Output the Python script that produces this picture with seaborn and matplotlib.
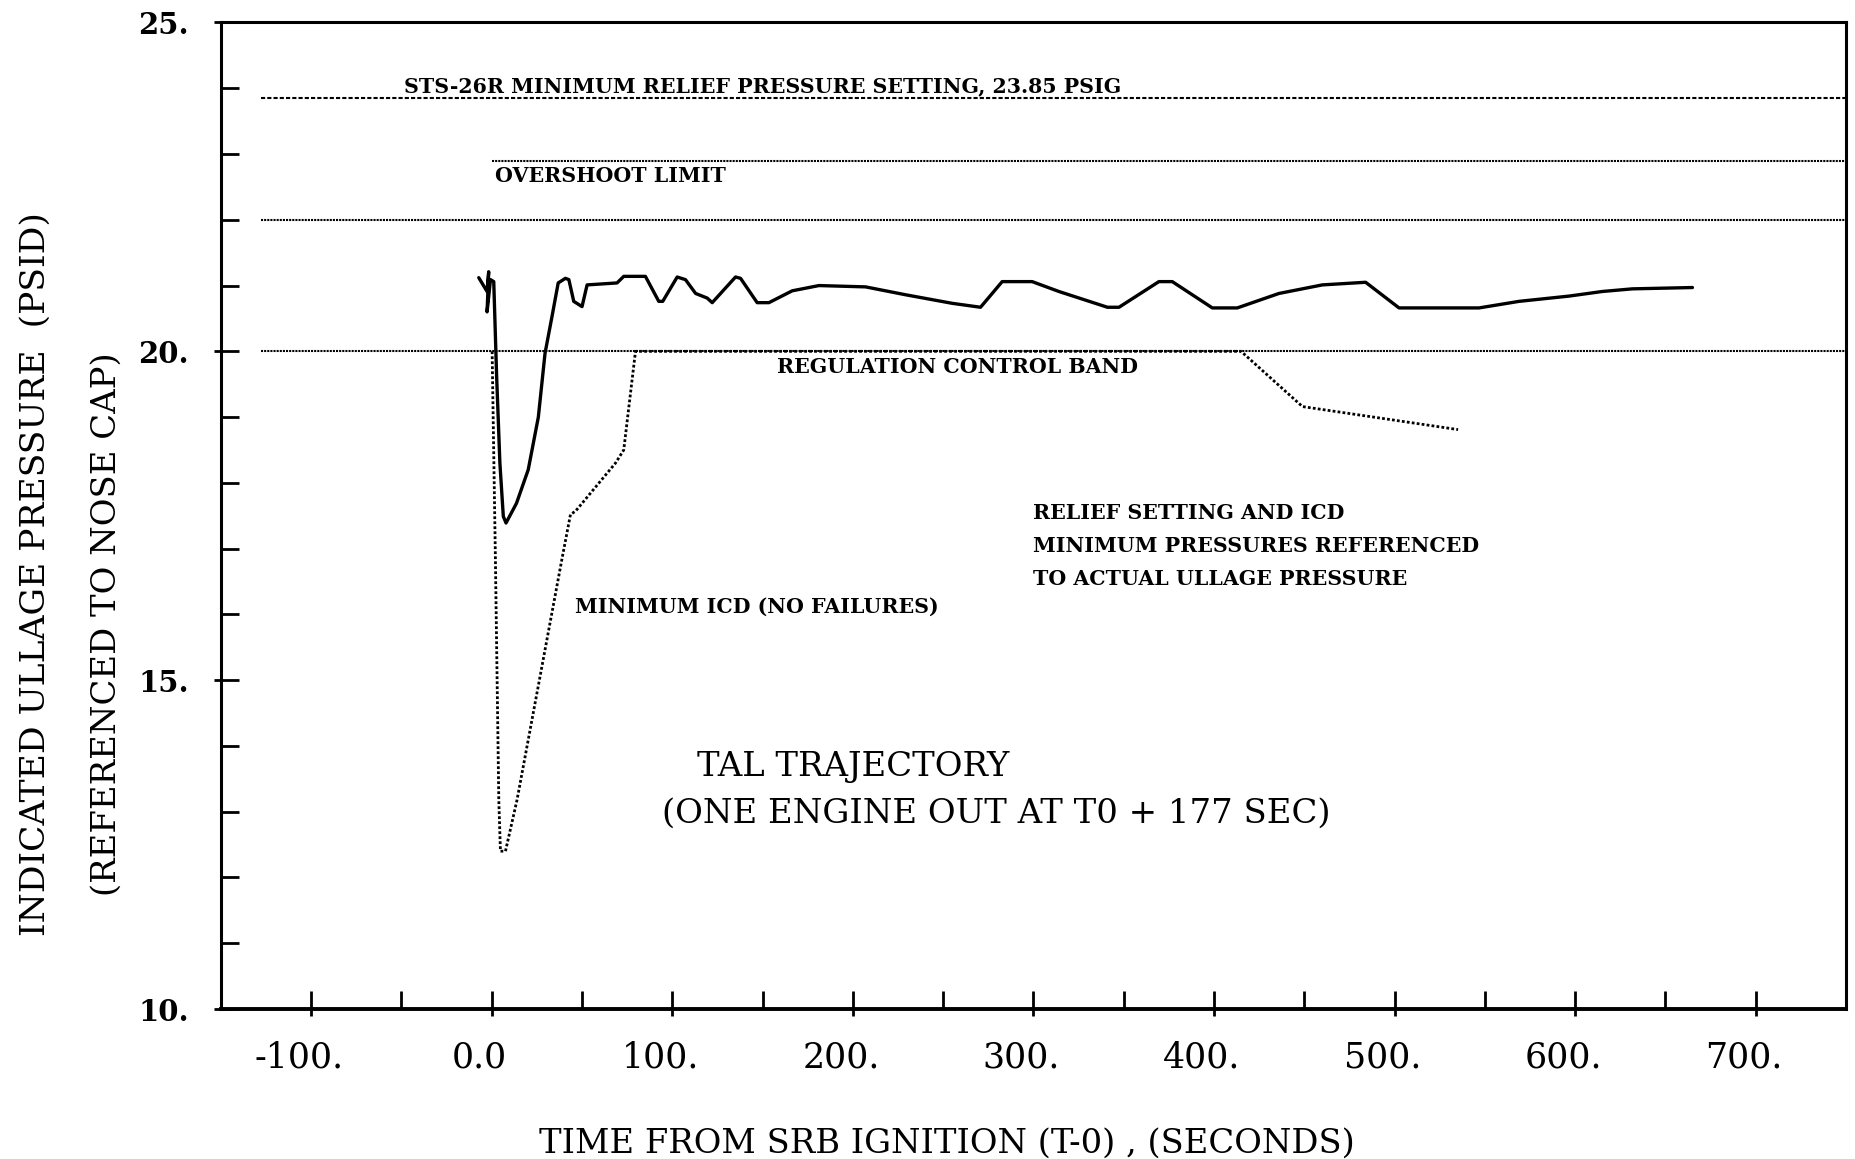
import numpy as np
import pandas as pd
import matplotlib
matplotlib.use("Agg")
import matplotlib.pyplot as plt
import seaborn as sns
from matplotlib.ticker import FuncFormatter
from matplotlib.transforms import ScaledTranslation

## datos (tiempo en s, presion en psid)

ullage_t = [-7.2, -2.6, -1.7, -2.6, -0.7, 1.1, 2.7, 4.5, 6.4, 7.9, 13.7, 20.2,
            25.8, 29.5, 33.5, 36.8, 40.8, 42.7, 45.4, 50.0, 52.8, 69.4,
            73.1, 85.1, 92.5, 94.7, 102.7, 107.3, 112.9, 119.3, 122.1, 135.0,
            137.8, 147.0, 153.5, 166.4, 181.2, 207.0, 229.2, 255.0, 270.7,
            282.7, 299.3, 314.1, 341.0, 347.4, 369.5, 376.9, 399.1, 412.9,
            436.0, 460.0, 484.0, 502.5, 546.8, 569.0, 596.7, 615.1, 631.7, 665.0]
ullage_p = [21.12, 20.91, 21.21, 20.60, 21.09, 21.06, 19.62, 18.30, 17.49, 17.39,
            17.69, 18.20, 19.00, 19.97, 20.55, 21.04, 21.11, 21.09, 20.76,
            20.68, 21.01, 21.04, 21.14, 21.14, 20.76, 20.76, 21.13, 21.09, 20.88,
            20.81, 20.74, 21.13, 21.11, 20.74, 20.74, 20.92, 21.00, 20.98, 20.86,
            20.73, 20.67, 21.06, 21.06, 20.91, 20.67, 20.67, 21.06, 21.06, 20.66,
            20.66, 20.88, 21.01, 21.05, 20.66, 20.66, 20.76, 20.84, 20.91, 20.95,
            20.97]

icd_t = [0.2, 2.0, 3.9, 4.8, 7.6, 14.0, 39.0, 43.6, 46.4, 68.5, 73.1, 79.6,
         415.0, 449.0, 535.2]
icd_p = [20.0, 16.88, 13.18, 12.4, 12.4, 13.18, 16.86, 17.52, 17.57, 18.3,
         18.5, 20.0, 20.0, 19.16, 18.81]

# lineas de referencia: nivel, inicio
ref_levels = [23.85, 22.9, 22.0, 20.0]
ref_start = [-128, 0, -128, -128]
ref_dash = [(2, 1), (1, 0.5), (1, 0.5), (1, 0.5)]

x_major = [-100, 0, 100, 200, 300, 400, 500, 600, 700]
x_minor = list(range(-100, 701, 50))
y_major = [10, 15, 20, 25]
y_minor = list(range(10, 26))

notes = ["STS-26R MINIMUM RELIEF PRESSURE SETTING, 23.85 PSIG",
         "OVERSHOOT LIMIT",
         "REGULATION CONTROL BAND",
         "MINIMUM ICD (NO FAILURES)",
         "RELIEF SETTING AND ICD",
         "MINIMUM PRESSURES REFERENCED",
         "TO ACTUAL ULLAGE PRESSURE"]
notes_x = [-48.6, 1.9, 157.8, 46.1, 299.6, 299.6, 299.6]
notes_y = [23.93, 22.58, 19.67, 16.02, 17.45, 16.95, 16.44]

big_notes = ["TAL TRAJECTORY", "(ONE ENGINE OUT AT T0 + 177 SEC)"]
big_x = [113.4, 94.1]
big_y = [13.54, 12.83]

sns.set_style("ticks")
plt.rcParams["font.family"] = ["DejaVu Serif"]
plt.rcParams["text.color"] = "black"
plt.rcParams["axes.labelcolor"] = "black"
plt.rcParams["xtick.color"] = "black"
plt.rcParams["ytick.color"] = "black"

fig = plt.figure(figsize=(18.55, 11.59), dpi=100)
ax = fig.add_axes([0.1191, 0.1294, 0.876, 0.8512])

# lineas horizontales punteadas
for lvl, x0, dsh in zip(ref_levels, ref_start, ref_dash):
    ax.hlines(lvl, x0, 750, colors="black", linewidth=1.5, linestyles=[(0, dsh)])

df_u = pd.DataFrame({"t": ullage_t, "p": ullage_p})
df_i = pd.DataFrame({"t": icd_t, "p": icd_p})
sns.lineplot(data=df_u, x="t", y="p", sort=False, estimator=None,
             color="black", linewidth=2.4, ax=ax)
sns.lineplot(data=df_i, x="t", y="p", sort=False, estimator=None,
             color="black", linewidth=2.0, linestyle=(0, (1, 0.8)), ax=ax)

ax.set_xlim(-150, 750)
ax.set_ylim(10, 25)

for txt, xx, yy in zip(notes, notes_x, notes_y):
    ax.text(xx, yy, txt, fontsize=14.8, fontweight="bold", va="baseline", ha="left")
for txt, xx, yy in zip(big_notes, big_x, big_y):
    ax.text(xx, yy, txt, fontsize=24.4, va="baseline", ha="left")

ax.xaxis.remove_overlapping_locs = False
ax.yaxis.remove_overlapping_locs = False
ax.set_xticks(x_major)
ax.set_xticks(x_minor, minor=True)
ax.set_yticks(y_major)
ax.set_yticks(y_minor, minor=True)
ax.xaxis.set_major_formatter(FuncFormatter(lambda v, pos: "0.0" if v == 0 else f"{v:.0f}."))
ax.yaxis.set_major_formatter(FuncFormatter(lambda v, pos: f"{v:.0f}."))
ax.tick_params(which="both", bottom=True, left=True, top=False, right=False)
ax.tick_params(which="major", direction="out", length=5, width=2, color="black")
ax.tick_params(which="minor", direction="in", length=13, width=2, color="black")
ax.tick_params(axis="x", which="major", labelsize=25, pad=18)
ax.tick_params(axis="y", which="major", labelsize=21, pad=18)
for lab in ax.get_yticklabels():
    lab.set_fontweight("bold")
# las etiquetas del eje x estan corridas un poco a la izquierda
shift = ScaledTranslation(-0.12, 0, fig.dpi_scale_trans)
for lab in ax.get_xticklabels():
    lab.set_transform(lab.get_transform() + shift)

for sp in ax.spines.values():
    sp.set_linewidth(2.2)
    sp.set_color("black")
ax.spines["bottom"].set_linewidth(2.8)

ax.set_xlabel("TIME FROM SRB IGNITION (T-0) , (SECONDS)", fontsize=24.3, va="top")
ax.xaxis.set_label_coords(0.447, -0.1206)
ax.set_ylabel("")
fig.text(0.0194, 0.5047, "INDICATED ULLAGE PRESSURE  (PSID)", rotation=90,
         fontsize=24.8, ha="center", va="center")
fig.text(0.0577, 0.4616, "(REFERENCED TO NOSE CAP)", rotation=90,
         fontsize=24.4, ha="center", va="center")

fig.savefig("out.png", dpi=100, facecolor="white")
